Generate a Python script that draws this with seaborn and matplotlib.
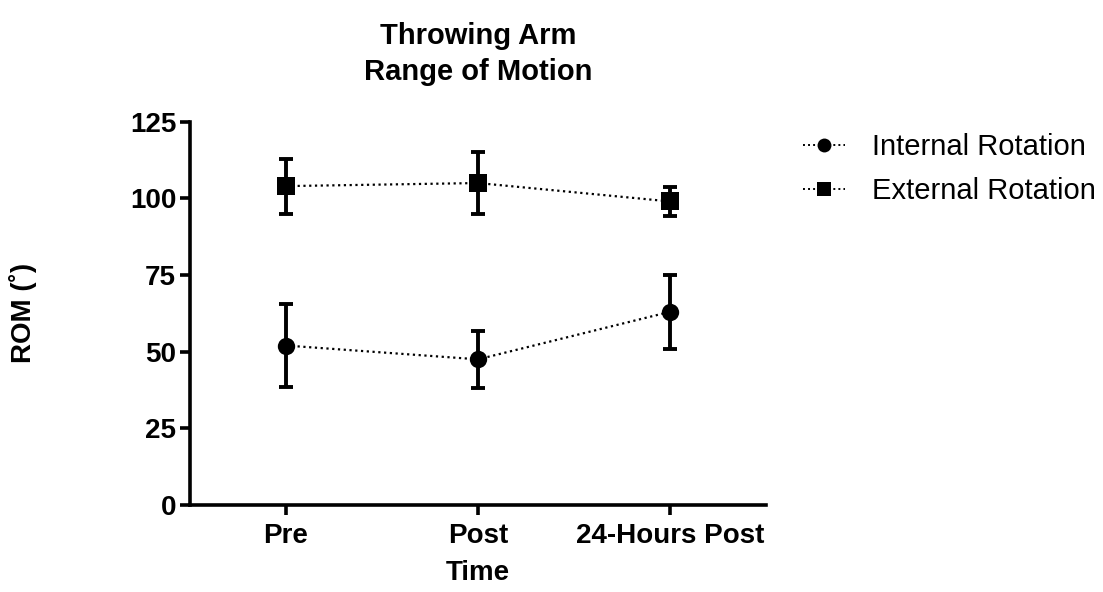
import numpy as np
import pandas as pd
import matplotlib
matplotlib.use("Agg")
import matplotlib.pyplot as plt
from matplotlib.lines import Line2D
import seaborn as sns

# Range of motion (degrees) at each time point: mean and SD
timepoints = ["Pre", "Post", "24-Hours Post"]
internal_mean = [52.0, 47.5, 63.0]
internal_sd = [13.4, 9.3, 12.0]
external_mean = [104.0, 105.0, 99.0]
external_sd = [9.0, 10.0, 4.8]
series_names = ["Internal Rotation", "External Rotation"]
y_ticks = [0, 25, 50, 75, 100, 125]

sns.set_theme(style="ticks")
plt.rcParams["font.family"] = ["Liberation Sans", "DejaVu Sans"]
plt.rcParams["text.color"] = "black"

df = pd.DataFrame({
    "Time": timepoints * 2,
    "x": list(range(len(timepoints))) * 2,
    "ROM": internal_mean + external_mean,
    "SD": internal_sd + external_sd,
    "Series": [series_names[0]] * 3 + [series_names[1]] * 3,
})

dotted = (0, (1, 1.6))
markers = {series_names[0]: "o", series_names[1]: "s"}

fig = plt.figure(figsize=(11.03, 5.92), dpi=100)
ax = fig.add_axes([0.1723, 0.1470, 0.5222, 0.6474])

sns.lineplot(data=df, x="x", y="ROM", hue="Series", style="Series",
             markers=markers, dashes=False, palette=["black", "black"],
             markersize=12.5, markeredgewidth=0, linewidth=1.6, ax=ax,
             legend=False, zorder=3)
for line in ax.get_lines():
    line.set_linestyle(dotted)

for name in series_names:
    sub = df[df["Series"] == name]
    ax.errorbar(sub["x"], sub["ROM"], yerr=sub["SD"], fmt="none",
                ecolor="black", elinewidth=2.8, capsize=5, capthick=2.8, zorder=2)

ax.set_xlim(-0.5, 2.5)
ax.set_ylim(0, 125)
ax.set_xticks(range(len(timepoints)))
ax.set_xticklabels(timepoints)
ax.set_yticks(y_ticks)
for lbl in ax.get_xticklabels() + ax.get_yticklabels():
    lbl.set_fontweight("bold")
    lbl.set_fontsize(20)
ax.tick_params(width=2.6, length=7, direction="out", colors="black")
ax.tick_params(axis="x", pad=6)
ax.tick_params(axis="y", pad=3)
for side in ["left", "bottom"]:
    ax.spines[side].set_linewidth(2.6)
    ax.spines[side].set_color("black")
for side in ["top", "right"]:
    ax.spines[side].set_visible(False)

ax.set_xlabel("Time", fontsize=20, fontweight="bold", labelpad=8, color="black")
ax.set_ylabel("ROM (˚)", fontsize=20, fontweight="bold", color="black")
ax.yaxis.set_label_coords(-0.265, 0.5)
ax.set_title("Throwing Arm\nRange of Motion", fontsize=21, fontweight="bold",
             pad=30, linespacing=1.35, color="black")

# Legend handles: dotted line through the marker
handles = [Line2D([0], [0], color="black", linestyle=dotted, linewidth=1.4,
                  marker=markers[n], markersize=10, markeredgewidth=0)
           for n in series_names]
leg = fig.legend(handles, series_names, loc="upper left", bbox_to_anchor=(0.728, 0.775),
                 frameon=False, fontsize=21, handlelength=1.45, handletextpad=0.9,
                 labelspacing=0.55, borderpad=0, borderaxespad=0)
for t in leg.get_texts():
    t.set_color("black")

fig.savefig("out.png", dpi=100)
